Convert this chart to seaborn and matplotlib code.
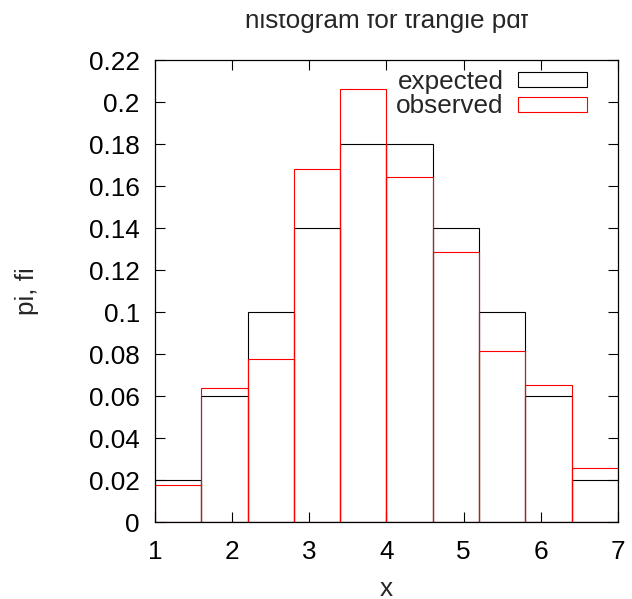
import matplotlib
matplotlib.use("Agg")
import matplotlib.pyplot as plt
from matplotlib.patches import Patch
from matplotlib.transforms import Bbox, TransformedBbox
import seaborn as sns

# bin edges and probabilities
bin_edges = [1.0, 1.6, 2.2, 2.8, 3.4, 4.0, 4.6, 5.2, 5.8, 6.4, 7.0]
expected = [0.02, 0.06, 0.10, 0.14, 0.18, 0.18, 0.14, 0.10, 0.06, 0.02]
observed = [0.0175, 0.064, 0.0776, 0.168, 0.2063, 0.1643, 0.1284, 0.0813, 0.0652, 0.0256]
x_ticks = [1, 2, 3, 4, 5, 6, 7]
y_ticks = [0, 0.02, 0.04, 0.06, 0.08, 0.1, 0.12, 0.14, 0.16, 0.18, 0.2, 0.22]
y_tick_labels = ["0", "0.02", "0.04", "0.06", "0.08", "0.1", "0.12", "0.14",
                 "0.16", "0.18", "0.2", "0.22"]

sns.set_style("ticks")
plt.rcParams["font.family"] = ["Liberation Sans", "DejaVu Sans"]
FS = 18.8

fig = plt.figure(figsize=(6.32, 5.99), dpi=100)
ax = fig.add_axes([0.2453, 0.1285, 0.9778 - 0.2453, 0.8998 - 0.1285])

centers = [(a + b) / 2 for a, b in zip(bin_edges[:-1], bin_edges[1:])]
sns.histplot(x=centers, weights=expected, bins=bin_edges, fill=False,
             element="bars", color="black", linewidth=0.8, ax=ax)
sns.histplot(x=centers, weights=observed, bins=bin_edges, fill=False,
             element="bars", color="#ff0000", linewidth=0.8, ax=ax)

ax.set_xlim(1, 7)
ax.set_ylim(0, 0.22)
ax.set_xticks(x_ticks)
ax.set_xticklabels([str(t) for t in x_ticks])
ax.set_yticks(y_ticks)
ax.set_yticklabels(y_tick_labels)
ax.tick_params(direction="in", length=7, width=0.8, top=True, right=True,
               labelsize=FS, colors="black")
ax.tick_params(axis="x", pad=13)
ax.tick_params(axis="y", pad=11)
for sp in ax.spines.values():
    sp.set_visible(True)
    sp.set_linewidth(0.9)
    sp.set_color("black")

ax.set_xlabel("x", fontsize=FS, labelpad=9)
ax.set_ylabel("pi, fi", fontsize=FS, labelpad=36)

handles = [Patch(facecolor="none", edgecolor="black", linewidth=0.8),
           Patch(facecolor="none", edgecolor="#ff0000", linewidth=0.8)]
ax.legend(handles, ["expected", "observed"], loc="upper right",
          bbox_to_anchor=(0.945, 0.99), markerfirst=False, frameon=False,
          fontsize=FS, handlelength=2.65, handleheight=0.5,
          handletextpad=0.55, labelspacing=0.02, borderaxespad=0.1,
          borderpad=0.1)

# title, cut off at the top like the original
title = fig.text(0.612, 1 - 28 / 599, "histogram for trangle pdf",
                 ha="center", va="baseline", fontsize=FS)
clip = TransformedBbox(Bbox([[0, 0], [1, 1 - 13.5 / 599]]), fig.transFigure)
title.set_clip_box(clip)
title.set_clip_on(True)

fig.savefig("out.png", dpi=100)
